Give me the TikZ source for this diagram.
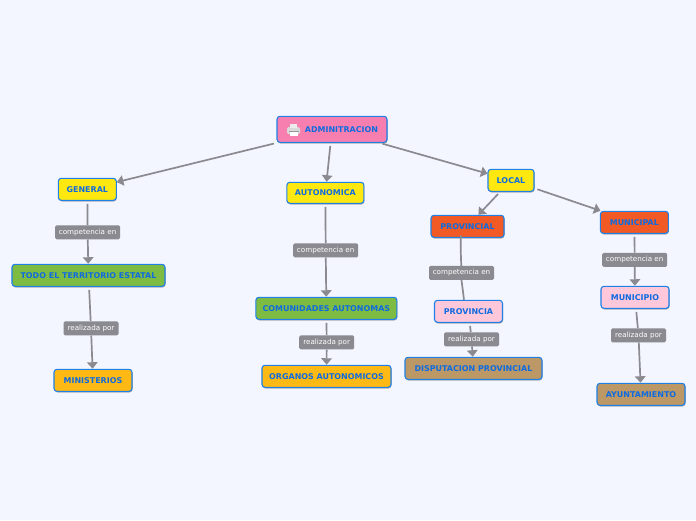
\documentclass[tikz,border=0pt]{standalone}
\usepackage{fontspec}
\setmainfont{DejaVu Sans}
\usetikzlibrary{arrows.meta}
\usetikzlibrary{shadows}
\definecolor{bgblue}{HTML}{F3F6FF}
\definecolor{edgeblue}{HTML}{1F80E6}
\definecolor{textblue}{HTML}{0F6BE0}
\definecolor{linkgray}{HTML}{8A8A90}
\definecolor{fillpink}{HTML}{F77FB0}
\definecolor{fillyellow}{HTML}{FFE810}
\definecolor{fillgreen}{HTML}{7EBB42}
\definecolor{fillorange}{HTML}{FEB914}
\definecolor{fillred}{HTML}{F15A24}
\definecolor{filllight}{HTML}{FFC7DA}
\definecolor{fillbrown}{HTML}{BB9865}
\tikzset{
  concept/.style={draw=edgeblue,line width=1.1pt,rounded corners=3pt,inner sep=0pt,
    text=textblue,font=\bfseries\fontsize{7.95}{9}\selectfont,
    drop shadow={shadow xshift=0.5pt,shadow yshift=-1.2pt,fill=black,opacity=0.3}},
  linkbox/.style={fill=linkgray,rounded corners=1.5pt,inner sep=0pt,minimum height=14pt,
    text=white,font=\fontsize{7.15}{8}\selectfont},
  linkline/.style={draw=linkgray,line width=1.7pt},
  linkarrow/.style={linkline,-{Triangle[length=6.5pt,width=10.5pt]}},
}
% x y width height fill name text
\newcommand{\concept}[7]{\node[concept,fill=#5,minimum width=#3pt,minimum height=#4pt] (#6) at (#1,#2) {\raisebox{-1.1pt}{#7}};}
% x y width name text
\newcommand{\linkbox}[5]{\node[linkbox,minimum width=#3pt] (#4) at (#1,#2) {\raisebox{-0.9pt}{#5}};}

\begin{document}
\begin{tikzpicture}[x=1pt,y=-1pt]
\useasboundingbox[fill=bgblue] (0,0) rectangle (696,520);
% the first box
\concept{332}{129.3}{110}{26}{fillpink}{admin}{\hspace*{19pt}ADMINITRACION}
% row 1 of concepts
\concept{87.3}{189.3}{58}{22}{fillyellow}{general}{GENERAL}
\concept{325.4}{192.8}{77}{21}{fillyellow}{autonomica}{AUTONOMICA}
\concept{511}{180.3}{46}{22}{fillyellow}{local}{LOCAL}
% row 2 of concepts
\concept{467.5}{226.3}{73}{22}{fillred}{provincial}{PROVINCIAL}
\concept{634.4}{222.3}{68}{22}{fillred}{municipal}{MUNICIPAL}
% row 3 of concepts
\concept{88.5}{275.3}{153}{22}{fillgreen}{territorio}{TODO EL TERRITORIO ESTATAL}
\concept{326.4}{308.3}{141}{22}{fillgreen}{comunidades}{COMUNIDADES AUTONOMAS}
\concept{468.5}{311.3}{68}{22}{filllight}{provincia}{PROVINCIA}
\concept{635}{297.3}{68}{22}{filllight}{municipio}{MUNICIPIO}
% row 4 of concepts
\concept{93}{380.3}{78}{22}{fillorange}{ministerios}{MINISTERIOS}
\concept{326.5}{376.3}{129}{22}{fillorange}{organos}{ORGANOS AUTONOMICOS}
\concept{473.5}{368.3}{137}{22}{fillbrown}{disputacion}{DISPUTACION PROVINCIAL}
\concept{641}{394.3}{88}{22}{fillbrown}{ayuntamiento}{AYUNTAMIENTO}
% printer in the first box
\fill[white!70!gray,rounded corners=1.5pt] (287,127) rectangle (300,134);
\fill[white!85!gray] (290,123.5) rectangle (297,128);
\fill[white] (289.5,132) rectangle (297.5,136);
\fill[gray!80] (288.5,130.5) rectangle (298.5,131.5);
% labels on the lines
\linkbox{87.6}{232.3}{65}{lab1}{competencia en}
\linkbox{91}{328.3}{55}{lab2}{realizada por}
\linkbox{325.7}{250.3}{65}{lab3}{competencia en}
\linkbox{326.7}{342.3}{55}{lab4}{realizada por}
\linkbox{461.5}{272.8}{65}{lab5}{competencia en}
\linkbox{471.5}{339.3}{55}{lab6}{realizada por}
\linkbox{634.7}{259.8}{65}{lab7}{competencia en}
\linkbox{638.5}{335.3}{55}{lab8}{realizada por}
% first level
\draw[linkarrow,shorten <=3pt] (admin) -- (general);
\draw[linkarrow,shorten <=3pt] (admin) -- (autonomica);
\draw[linkarrow,shorten <=3pt] (admin) -- (local);
\draw[linkarrow,shorten <=3pt] (local) -- (provincial);
\draw[linkarrow,shorten <=3pt] (local) -- (municipal);
% left column
\draw[linkline,shorten <=3pt] (general) -- (lab1);
\draw[linkarrow] (lab1) -- (territorio);
\draw[linkline,shorten <=3pt] (territorio) -- (lab2);
\draw[linkarrow] (lab2) -- (ministerios);
% middle column
\draw[linkline,shorten <=3pt] (autonomica) -- (lab3);
\draw[linkarrow] (lab3) -- (comunidades);
\draw[linkline,shorten <=3pt] (comunidades) -- (lab4);
\draw[linkarrow] (lab4) -- (organos);
% local columns
\draw[linkline] (lab5.north) to[out=-90,in=100] ([xshift=-6pt]provincial.south);
\draw[linkline] (lab5.south) -- ([xshift=-4.5pt]provincia.north);
\draw[linkline,shorten <=3pt] (provincia) -- (lab6);
\draw[linkarrow] (lab6) -- (disputacion);
\draw[linkline,shorten <=3pt] (municipal) -- (lab7);
\draw[linkarrow] (lab7) -- (municipio);
\draw[linkline,shorten <=3pt] (municipio) -- (lab8);
\draw[linkarrow] (lab8) -- (ayuntamiento);
\end{tikzpicture}
\end{document}
